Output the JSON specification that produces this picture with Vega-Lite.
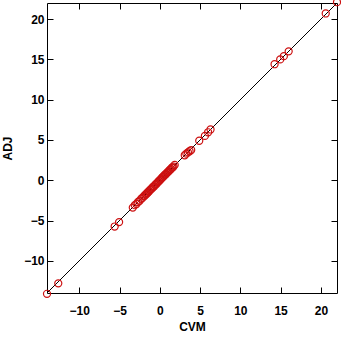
{
  "$schema": "https://vega.github.io/schema/vega-lite/v6.json",
  "width": 290,
  "height": 290,
  "autosize": "none",
  "padding": {"left": 47, "top": 3, "right": 4, "bottom": 45},
  "background": "white",
  "config": {
    "view": {"stroke": "black", "strokeWidth": 1},
    "font": "Liberation Sans",
    "axis": {
      "labelFont": "Liberation Sans", "labelFontWeight": "bold", "labelFontSize": 12, "labelColor": "black",
      "titleFont": "Liberation Sans", "titleFontWeight": "bold", "titleFontSize": 12, "titleColor": "black",
      "grid": false, "domainColor": "black", "tickColor": "black", "tickSize": -6
    }
  },
  "datasets": {
    "pts": [
      {"CVM": -14.0, "ADJ": -14.1},
      {"CVM": -12.6, "ADJ": -12.8},
      {"CVM": -5.6, "ADJ": -5.75},
      {"CVM": -5.05, "ADJ": -5.2},
      {"CVM": -3.35, "ADJ": -3.4},
      {"CVM": -3.1, "ADJ": -3.1},
      {"CVM": -2.9, "ADJ": -2.95},
      {"CVM": -2.7, "ADJ": -2.7},
      {"CVM": -2.5, "ADJ": -2.55},
      {"CVM": -2.3, "ADJ": -2.3},
      {"CVM": -2.15, "ADJ": -2.2},
      {"CVM": -2.0, "ADJ": -2.0},
      {"CVM": -1.9, "ADJ": -1.95},
      {"CVM": -1.8, "ADJ": -1.8},
      {"CVM": -1.7, "ADJ": -1.75},
      {"CVM": -1.6, "ADJ": -1.6},
      {"CVM": -1.5, "ADJ": -1.55},
      {"CVM": -1.4, "ADJ": -1.4},
      {"CVM": -1.3, "ADJ": -1.35},
      {"CVM": -1.2, "ADJ": -1.2},
      {"CVM": -1.1, "ADJ": -1.1},
      {"CVM": -1.0, "ADJ": -1.05},
      {"CVM": -0.9, "ADJ": -0.9},
      {"CVM": -0.8, "ADJ": -0.8},
      {"CVM": -0.7, "ADJ": -0.75},
      {"CVM": -0.6, "ADJ": -0.6},
      {"CVM": -0.5, "ADJ": -0.5},
      {"CVM": -0.4, "ADJ": -0.45},
      {"CVM": -0.3, "ADJ": -0.3},
      {"CVM": -0.2, "ADJ": -0.2},
      {"CVM": -0.1, "ADJ": -0.1},
      {"CVM": 0.0, "ADJ": 0.0},
      {"CVM": 0.1, "ADJ": 0.1},
      {"CVM": 0.2, "ADJ": 0.2},
      {"CVM": 0.3, "ADJ": 0.35},
      {"CVM": 0.4, "ADJ": 0.4},
      {"CVM": 0.5, "ADJ": 0.5},
      {"CVM": 0.6, "ADJ": 0.65},
      {"CVM": 0.7, "ADJ": 0.7},
      {"CVM": 0.8, "ADJ": 0.8},
      {"CVM": 0.9, "ADJ": 0.95},
      {"CVM": 1.0, "ADJ": 1.0},
      {"CVM": 1.1, "ADJ": 1.1},
      {"CVM": 1.2, "ADJ": 1.25},
      {"CVM": 1.3, "ADJ": 1.3},
      {"CVM": 1.4, "ADJ": 1.4},
      {"CVM": 1.5, "ADJ": 1.55},
      {"CVM": 1.6, "ADJ": 1.6},
      {"CVM": 1.7, "ADJ": 1.7},
      {"CVM": 1.85, "ADJ": 1.9},
      {"CVM": 3.1, "ADJ": 3.1},
      {"CVM": 3.3, "ADJ": 3.3},
      {"CVM": 3.5, "ADJ": 3.45},
      {"CVM": 3.7, "ADJ": 3.6},
      {"CVM": 3.9, "ADJ": 3.75},
      {"CVM": 4.9, "ADJ": 4.9},
      {"CVM": 5.6, "ADJ": 5.5},
      {"CVM": 6.0, "ADJ": 5.95},
      {"CVM": 6.3, "ADJ": 6.3},
      {"CVM": 14.25, "ADJ": 14.4},
      {"CVM": 14.95, "ADJ": 15.0},
      {"CVM": 15.4, "ADJ": 15.4},
      {"CVM": 16.0, "ADJ": 16.0},
      {"CVM": 20.6, "ADJ": 20.7},
      {"CVM": 22.0, "ADJ": 22.1}
    ],
    "diag": [
      {"CVM": -14, "ADJ": -14},
      {"CVM": 22, "ADJ": 22}
    ]
  },
  "layer": [
    {
      "data": {"name": "diag"},
      "mark": {"type": "line", "color": "black", "strokeWidth": 1, "clip": true},
      "encoding": {
        "x": {"field": "CVM", "type": "quantitative", "scale": {"domain": [-14, 22], "nice": false, "zero": false},
              "axis": {"orient": "top", "labels": false, "title": null, "domain": false, "values": [-10, -5, 0, 5, 10, 15, 20]}},
        "y": {"field": "ADJ", "type": "quantitative", "scale": {"domain": [-14, 22], "nice": false, "zero": false},
              "axis": {"orient": "right", "labels": false, "title": null, "domain": false, "values": [-10, -5, 0, 5, 10, 15, 20]}}
      }
    },
    {
      "data": {"name": "pts"},
      "mark": {"type": "point", "shape": "circle", "filled": false, "color": "#cc1111", "strokeWidth": 1.2, "size": 50, "opacity": 1},
      "encoding": {
        "x": {"field": "CVM", "type": "quantitative",
              "axis": {"orient": "bottom", "title": "CVM", "labelPadding": 18, "titlePadding": 5, "domain": false, "values": [-10, -5, 0, 5, 10, 15, 20]}},
        "y": {"field": "ADJ", "type": "quantitative",
              "axis": {"orient": "left", "title": "ADJ", "labelPadding": 9, "titlePadding": 9, "domain": false, "values": [-10, -5, 0, 5, 10, 15, 20]}}
      }
    }
  ]
}
